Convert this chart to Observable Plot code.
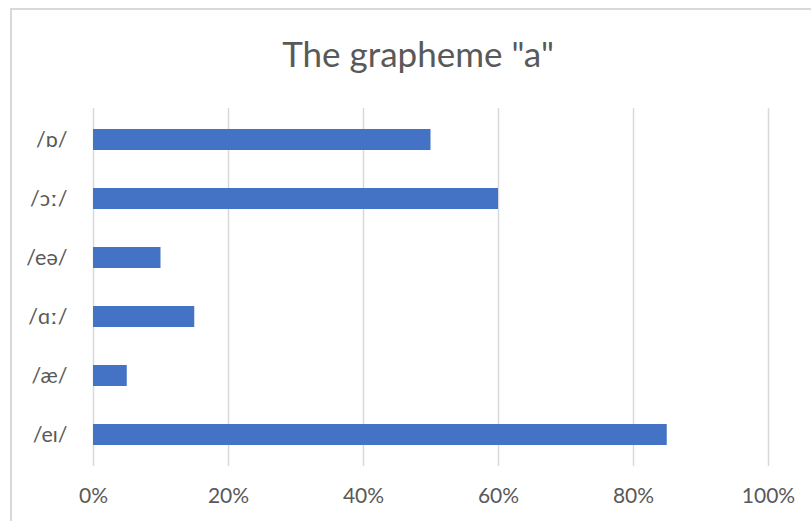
<!DOCTYPE html>
<html>
<head>
<meta charset="utf-8">
<script src="https://cdn.jsdelivr.net/npm/d3@7"></script>
<script src="https://cdn.jsdelivr.net/npm/@observablehq/plot@0.6"></script>
<style>
  html, body { margin: 0; padding: 0; background: #fff; }
  #wrap { position: relative; width: 811px; height: 521px; overflow: hidden; }
  #border { position: absolute; left: 10px; top: 8px; width: 900px; height: 600px; border: 2px solid #d9d9d9; box-sizing: border-box; }
  #chart { position: absolute; left: 0; top: 0; }
</style>
</head>
<body>
<div id="wrap"><div id="border"></div><div id="chart"></div></div>
<script>
const title = 'The grapheme "a"';
const categories = ["/\u0252/", "/\u0254\u02D0/", "/e\u0259/", "/\u0251\u02D0/", "/\u00E6/", "/e\u026A/"];
const values = [0.50, 0.60, 0.10, 0.15, 0.05, 0.85];
const xTicks = [0, 0.2, 0.4, 0.6, 0.8, 1.0];

const data = categories.map((c, i) => ({category: c, value: values[i]}));
const font = "Lato, 'Noto Sans', 'DejaVu Sans', sans-serif";

const chart = Plot.plot({
  width: 811,
  height: 521,
  marginTop: 108,
  marginBottom: 55,
  marginLeft: 93,
  marginRight: 43,
  style: {fontFamily: font, color: "#595959", background: "transparent", overflow: "visible"},
  x: {domain: [0, 1], ticks: xTicks, label: null, tickFormat: d => Math.round(d * 100) + "%"},
  y: {domain: categories, label: null, paddingInner: 0.647, paddingOuter: 0.3235},
  marks: [
    Plot.ruleX(xTicks, {stroke: "#d9d9d9", strokeWidth: 1.5}),
    Plot.barX(data, {y: "category", x: "value", fill: "#4472C4"}),
    Plot.axisX({ticks: xTicks, label: null, tickSize: 0, tickPadding: 22, fontSize: 21, fill: "#595959", tickFormat: d => Math.round(d * 100) + "%"}),
    Plot.axisY({label: null, tickSize: 0, tickPadding: 26, fontSize: 21.5, fill: "#595959"}),
    Plot.text([title], {frameAnchor: "top", dx: -13, dy: -66, fontSize: 35, fill: "#595959", text: d => d})
  ]
});
document.getElementById("chart").appendChild(chart);
</script>
</body>
</html>
